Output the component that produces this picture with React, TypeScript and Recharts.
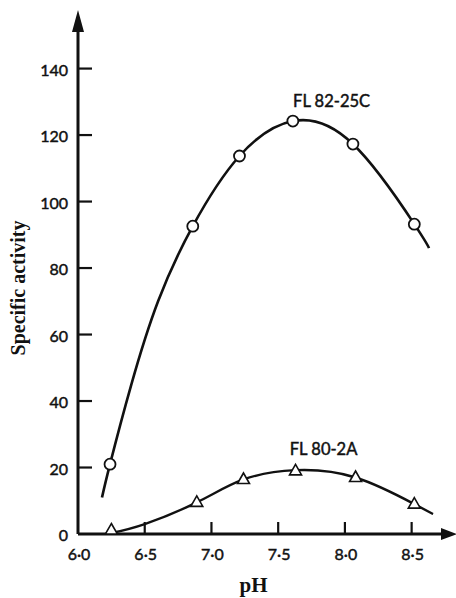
import { ComposedChart, Line, Scatter, XAxis, YAxis, ReferenceDot } from "recharts";

// axis ticks
const PH_TICKS = [6.0, 6.5, 7.0, 7.5, 8.0, 8.5];
const ACTIVITY_TICKS = [0, 20, 40, 60, 80, 100, 120, 140];

// FL 82-25C, measured points (circles)
const PH_C = [6.24, 6.86, 7.21, 7.61, 8.06, 8.52];
const ACT_C = [21, 92.6, 113.7, 124.2, 117.3, 93.2];
// FL 82-25C, drawn curve
const CURVE_C_PH = [6.18, 6.24, 6.4, 6.6, 6.86, 7.21, 7.61, 8.06, 8.52, 8.63];
const CURVE_C_ACT = [11, 21, 45, 70, 92.6, 113.7, 124.2, 117.3, 93.2, 86];

// FL 80-2A, measured points (triangles)
const PH_A = [6.25, 6.89, 7.24, 7.63, 8.08, 8.52];
const ACT_A = [1.2, 9.5, 16.4, 19.0, 17.0, 9.0];
// FL 80-2A, drawn curve
const CURVE_A_PH = [6.25, 6.5, 6.89, 7.24, 7.63, 8.08, 8.52, 8.66];
const CURVE_A_ACT = [0.3, 3, 9.5, 16.4, 19.2, 17.0, 9.0, 6.0];

const toRows = (xs: number[], ys: number[]) => xs.map((ph, i) => ({ ph, act: ys[i] }));

const INK = "#111";
const SANS = "Lato, 'DejaVu Sans', sans-serif";
const SERIF = "'Liberation Serif', 'DejaVu Serif', serif";

function YTick({ x, y, payload }: any) {
  return (
    <g>
      {payload.value !== 0 && <line x1={x} y1={y} x2={x + 14} y2={y} stroke={INK} strokeWidth={2.2} />}
      <text x={x - 10} y={y + 7} textAnchor="end" fontSize={16} fontFamily={SANS} fill={INK} stroke={INK} strokeWidth={0.45}>
        {payload.value}
      </text>
    </g>
  );
}

function XTick({ x, y, payload }: any) {
  const v = payload.value as number;
  return (
    <g>
      {v > 6 && <line x1={x} y1={y} x2={x} y2={y - 12} stroke={INK} strokeWidth={2.2} />}
      <text x={x + 1} y={y + 26} textAnchor="middle" fontSize={16} fontFamily={SANS} fill={INK} stroke={INK} strokeWidth={0.45}>
        {v.toFixed(1).replace(".", "\u00b7")}
      </text>
    </g>
  );
}

const Circle = ({ cx, cy }: any) => <circle cx={cx} cy={cy} r={5.5} fill="#fff" stroke={INK} strokeWidth={1.8} />;

const Triangle = ({ cx, cy }: any) => (
  <path d={`M${cx},${cy - 6.5} L${cx + 6},${cy + 4} L${cx - 6},${cy + 4} Z`} fill="#fff" stroke={INK} strokeWidth={1.6} />
);

const Tag = (text: string) => ({ cx, cy }: any) => (
  <text x={cx} y={cy} textAnchor="middle" fontSize={16.5} fontFamily={SANS} fill={INK} stroke={INK} strokeWidth={0.45}>
    {text}
  </text>
);

export default function App() {
  return (
    <div style={{ position: "absolute", left: 0, top: 0, width: 456, height: 598, background: "#fff" }}>
      <svg width={0} height={0} style={{ position: "absolute" }}>
        <defs>
          <marker id="arrowY" markerUnits="userSpaceOnUse" markerWidth={22} markerHeight={12} viewBox="0 0 22 12" refX={0} refY={6} orient="auto-start-reverse">
            <path d="M0,0 L22,6 L0,12 Z" fill={INK} />
          </marker>
          <marker id="arrowX" markerUnits="userSpaceOnUse" markerWidth={16} markerHeight={12} viewBox="0 0 16 12" refX={0} refY={6} orient="auto">
            <path d="M0,0 L16,6 L0,12 Z" fill={INK} />
          </marker>
        </defs>
      </svg>
      <ComposedChart width={456} height={598} margin={{ top: 32, right: 15, bottom: 0, left: 0 }}>
        <XAxis
          dataKey="ph"
          type="number"
          domain={[6, 8.72]}
          ticks={PH_TICKS}
          interval={0}
          allowDataOverflow
          height={64}
          tickSize={0}
          tickMargin={0}
          tick={<XTick />}
          axisLine={{ stroke: INK, strokeWidth: 3, markerEnd: "url(#arrowX)" }}
          label={({ viewBox }: any) => (
            <text x={viewBox.x + viewBox.width / 2 - 6} y={viewBox.y + 58} textAnchor="middle" fontSize={21} fontWeight="bold" fontFamily={SERIF} fill={INK}>
              pH
            </text>
          )}
        />
        <YAxis
          dataKey="act"
          type="number"
          domain={[0, 151]}
          ticks={ACTIVITY_TICKS}
          interval={0}
          allowDataOverflow
          width={78}
          tickSize={0}
          tickMargin={0}
          tick={<YTick />}
          axisLine={{ stroke: INK, strokeWidth: 3, markerStart: "url(#arrowY)" }}
          label={({ viewBox }: any) => (
            <text
              x={25}
              y={viewBox.y + viewBox.height / 2 + 5}
              transform={`rotate(-90 25 ${viewBox.y + viewBox.height / 2 + 5})`}
              textAnchor="middle"
              fontSize={20}
              fontWeight="bold"
              fontFamily={SERIF}
              fill={INK}
            >
              Specific activity
            </text>
          )}
        />
        <Line data={toRows(CURVE_C_PH, CURVE_C_ACT)} dataKey="act" type="natural" stroke={INK} strokeWidth={2.6} dot={false} activeDot={false} isAnimationActive={false} />
        <Line data={toRows(CURVE_A_PH, CURVE_A_ACT)} dataKey="act" type="natural" stroke={INK} strokeWidth={2.4} dot={false} activeDot={false} isAnimationActive={false} />
        <Scatter data={toRows(PH_C, ACT_C)} dataKey="act" shape={Circle} isAnimationActive={false} />
        <Scatter data={toRows(PH_A, ACT_A)} dataKey="act" shape={Triangle} isAnimationActive={false} />
        <ReferenceDot x={7.9} y={128.4} r={0} shape={Tag("FL 82-25C")} />
        <ReferenceDot x={7.84} y={23.8} r={0} shape={Tag("FL 80-2A")} />
      </ComposedChart>
    </div>
  );
}
